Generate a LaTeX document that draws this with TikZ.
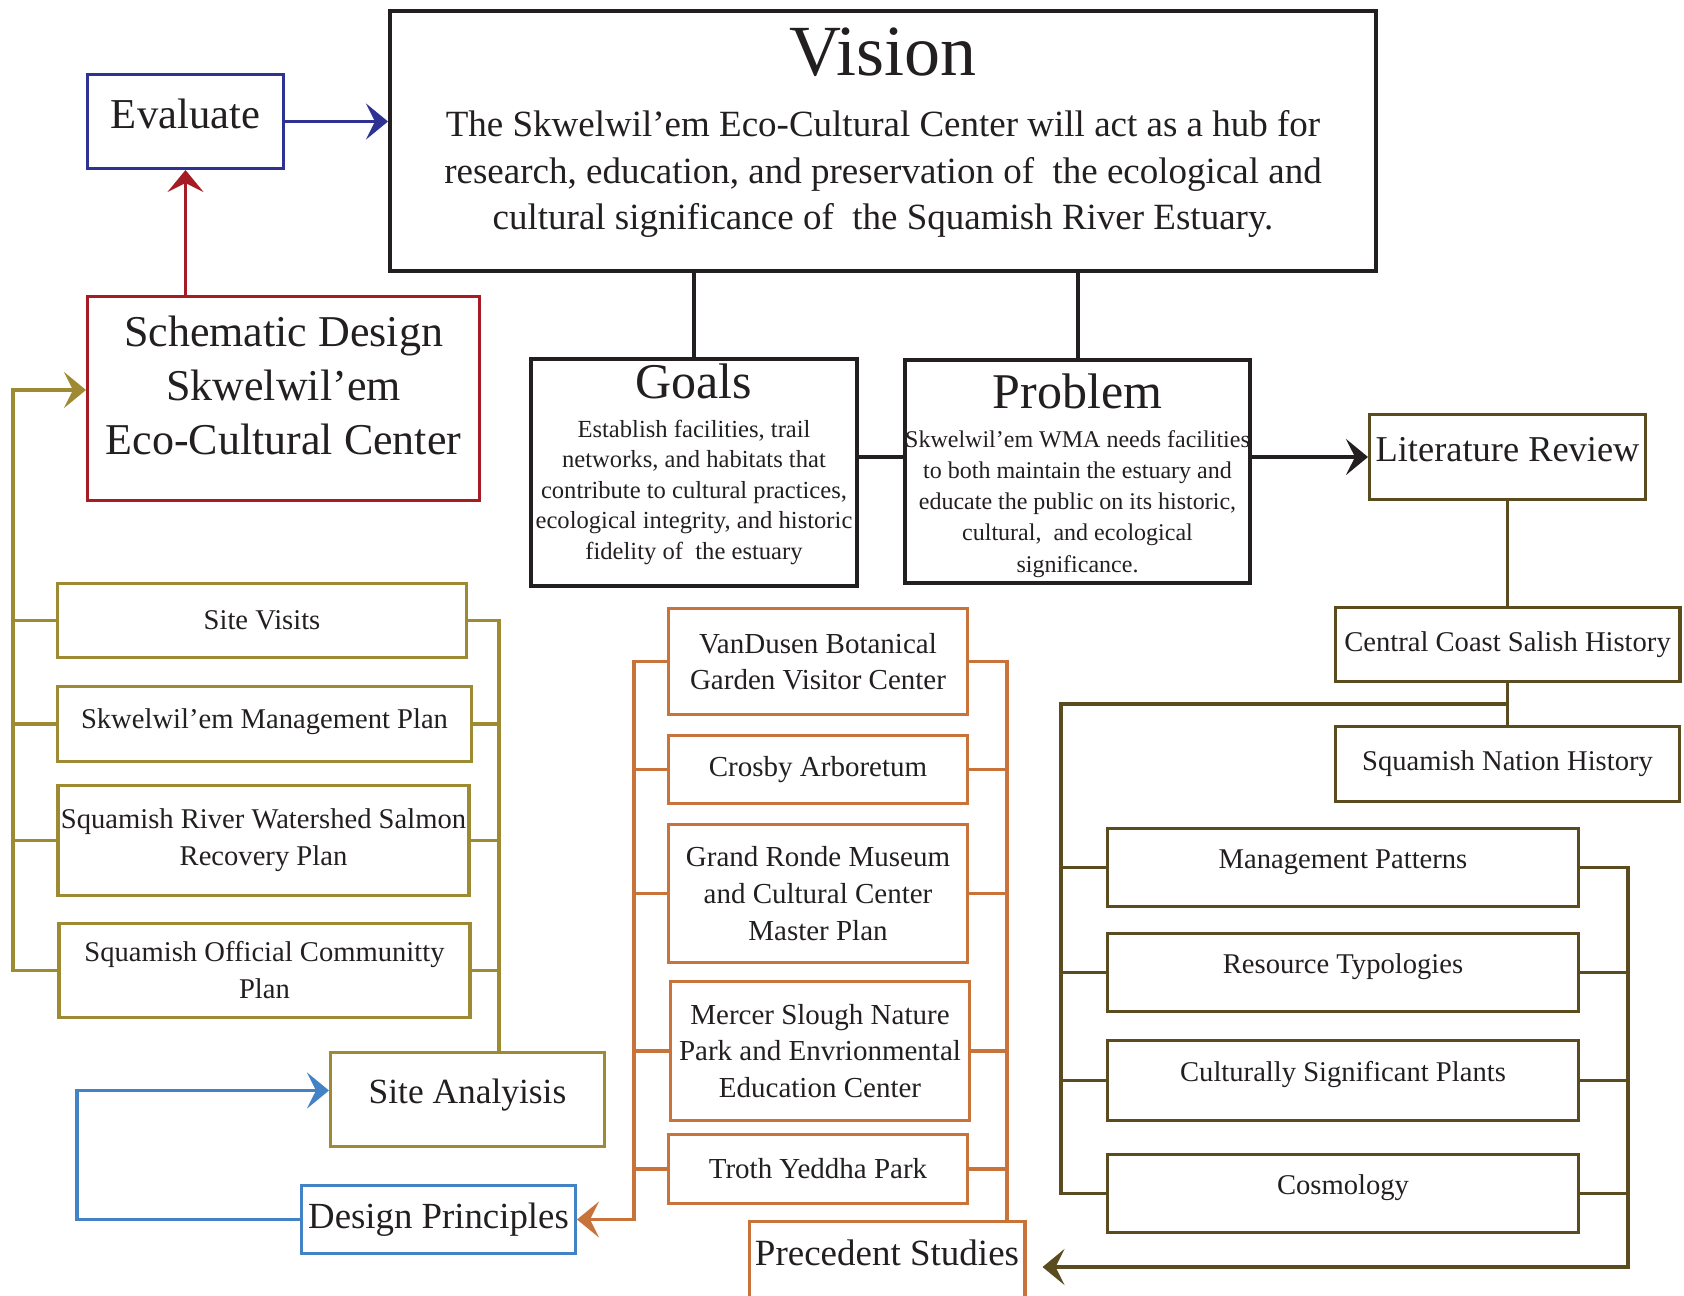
\documentclass[tikz,border=0pt]{standalone}
\usepackage{fontspec}
\setmainfont{Liberation Serif}
\usetikzlibrary{positioning,arrows.meta}
\definecolor{myink}{HTML}{231F20}
\definecolor{myblue}{HTML}{2E3393}
\definecolor{myred}{HTML}{A51C24}
\definecolor{myolive}{HTML}{9F8A34}
\definecolor{myorange}{HTML}{C7733A}
\definecolor{mysky}{HTML}{4382C5}
\definecolor{mybrown}{HTML}{5A4C1E}

\begin{document}
\begin{tikzpicture}[x=0.5pt, y=-0.5pt,
        squarenode/.style={rectangle, draw=myink, line width=2pt, align=center, text=myink, inner sep=2pt},
        smallnode/.style={squarenode, line width=1.7pt, inner sep=1pt, font=\fontsize{14.3}{18.5}\selectfont},
        sitenode/.style={smallnode, draw=myolive, minimum width=205.5pt},
        precnode/.style={smallnode, draw=myorange, minimum width=149.3pt, font=\fontsize{14.5}{18.3}\selectfont},
        litnode/.style={smallnode, draw=mybrown},
        topicnode/.style={litnode, minimum width=235.3pt, minimum height=38.8pt, text height=10pt, text depth=9.5pt},
        headed/.style={-{Stealth[length=11pt, width=18pt, inset=4.5pt]}},
        blackline/.style={myink, line width=2pt},
        oliveline/.style={myolive, line width=1.7pt},
        orangeline/.style={myorange, line width=1.7pt},
        brownline/.style={mybrown, line width=1.7pt},
        skyline/.style={mysky, line width=1.7pt}]
        \useasboundingbox (0,0) rectangle (1684,1295);
        % top row
        \node[squarenode, minimum width=493pt, minimum height=130pt, font=\fontsize{18.5}{23.3}\selectfont] at (883, 141) (vision) {{\fontsize{36}{36}\selectfont Vision}\\[7.2pt] The Skwelwil’em Eco-Cultural Center will act as a hub for\\ research, education, and preservation of~ the ecological and\\ cultural significance of~ the Squamish River Estuary.\\[-11.3pt]\mbox{}};
        \node[squarenode, draw=myblue, line width=1.7pt, minimum width=97.8pt, minimum height=46.8pt, font=\fontsize{21.3}{25}\selectfont, text height=14.5pt, text depth=8pt] at (185.5, 121.5) (evaluate) {Evaluate};
        \node[squarenode, draw=myred, line width=1.7pt, minimum width=195.8pt, minimum height=101.8pt, font=\fontsize{22}{27}\selectfont] at (283.5, 398.5) (schem) {Schematic Design\\ Skwelwil’em\\ Eco-Cultural Center\\[-14pt]\mbox{}};
        \node[squarenode, minimum width=163pt, minimum height=111.5pt, font=\fontsize{12.3}{15.25}\selectfont] at (694, 472.5) (goals) {{\fontsize{25}{25}\selectfont Goals}\\[4.25pt] Establish facilities, trail\\ networks, and habitats that\\ contribute to cultural practices,\\ ecological integrity, and historic\\ fidelity of~ the estuary\\[-4pt]\mbox{}};
        \node[squarenode, inner sep=0pt, minimum width=171.5pt, minimum height=111.5pt, font=\fontsize{12}{15.6}\selectfont] at (1077.5, 471.5) (problem) {\mbox{}\\[3pt]{\fontsize{25}{25}\selectfont Problem}\\[3.9pt] Skwelwil’em WMA needs facilities\\ to both maintain the estuary and\\ educate the public on its historic,\\ cultural,~ and ecological\\ significance.};
        % literature review
        \node[litnode, minimum width=137.8pt, minimum height=42.3pt, font=\fontsize{18.2}{22}\selectfont, text height=12.4pt, text depth=8pt] at (1507.5, 457) (lit) {Literature Review};
        \node[litnode, minimum width=172.3pt, minimum height=36.8pt, below=52.5pt of lit] (central) {Central Coast Salish History};
        \node[litnode, minimum width=171.8pt, minimum height=37.3pt, below=21pt of central] (snation) {Squamish Nation History};
        \node[topicnode] at (1343, 867.5) (mgmt) {Management Patterns};
        \node[topicnode] at (1343, 972.5) (restyp) {Resource Typologies};
        \node[topicnode, minimum height=39.8pt] at (1343, 1080.5) (plants) {Culturally Significant Plants};
        \node[topicnode] at (1343, 1193.5) (cosmo) {Cosmology};
        % site analysis
        \node[sitenode, minimum width=204.3pt, minimum height=36.8pt] at (262, 620.5) (visits) {Site Visits};
        \node[sitenode, minimum width=206.8pt, minimum height=37.3pt, text height=10pt, text depth=6pt] at (264.5, 724) (skplan) {Skwelwil’em Management Plan};
        \node[sitenode, minimum height=54.8pt] at (263.5, 840.5) (salmon) {Squamish River Watershed Salmon\\ Recovery Plan};
        \node[sitenode, minimum height=46.8pt] at (264.5, 970.5) (ocp) {Squamish Official Communitty\\ Plan};
        \node[squarenode, draw=myolive, line width=1.7pt, minimum width=136.8pt, minimum height=46.8pt, font=\fontsize{17.7}{21}\selectfont, text height=12.1pt, text depth=8pt] at (467.5, 1099.5) (analysis) {Site Analyisis};
        \node[squarenode, draw=mysky, line width=1.7pt, minimum width=136.8pt, minimum height=33.8pt, font=\fontsize{18.4}{22}\selectfont] at (438.5, 1219.5) (principles) {Design Principles};
        % precedents
        \node[precnode, minimum height=52.8pt] at (818, 661.5) (vandusen) {VanDusen Botanical\\ Garden Visitor Center};
        \node[precnode, minimum height=33.8pt] at (818, 769.5) (crosby) {Crosby Arboretum};
        \node[precnode, minimum height=68.8pt] at (818, 893.5) (ronde) {Grand Ronde Museum\\ and Cultural Center\\ Master Plan};
        \node[precnode, minimum height=69.3pt] at (820, 1051) (mercer) {Mercer Slough Nature\\ Park and Envrionmental\\ Education Center};
        \node[precnode, minimum height=34.3pt] at (818, 1169) (troth) {Troth Yeddha Park};
        \node[squarenode, draw=myorange, line width=1.7pt, minimum width=137.8pt, minimum height=43.3pt, font=\fontsize{18.5}{22}\selectfont, text height=12.6pt, text depth=12.5pt] at (887, 1265) (precedent) {Precedent Studies};
        \coordinate (sitebusL) at (13, 0);
        \coordinate (sitebusR) at (499, 0);
        \coordinate (dploop) at (77, 0);
        \coordinate (precbusL) at (634, 0);
        \coordinate (precbusR) at (1007, 0);
        \coordinate (litbusL) at (1061, 704);
        \coordinate (litbusR) at (1628, 1267);
        % black links
        \draw[blackline] (goals.north) -- (goals.north |- vision.south);
        \draw[blackline] (problem.north) -- (problem.north |- vision.south);
        \draw[blackline] (goals.east |- lit) -- (problem.west |- lit);
        \draw[blackline, headed] (problem.east |- lit) -- (lit.west);
        \draw[myblue, line width=1.7pt, headed] (evaluate.east) -- (evaluate.east -| vision.west);
        \draw[myred, line width=1.7pt, headed] (schem.north -| evaluate) -- (evaluate.south);
        % site analysis bus
        \draw[oliveline, headed] (ocp.west) -- (ocp.west -| sitebusL) |- ([yshift=4.25pt]schem.west);
        \foreach \n in {visits, skplan, salmon}
            \draw[oliveline] (\n.west) -- (\n.west -| sitebusL);
        \draw[oliveline] (visits.east) -- (visits.east -| sitebusR) -- (analysis.north -| sitebusR);
        \foreach \n in {skplan, salmon, ocp}
            \draw[oliveline] (\n.east) -- (\n.east -| sitebusR);
        \draw[skyline, headed] (principles.west) -- (principles.west -| dploop) |- ([yshift=4.5pt]analysis.west);
        % precedent bus
        \draw[orangeline, headed] (vandusen.west) -- (vandusen.west -| precbusL) |- (principles.east);
        \foreach \n in {crosby, ronde, mercer, troth}
            \draw[orangeline] (\n.west) -- (\n.west -| precbusL);
        \draw[orangeline] (vandusen.east) -- (vandusen.east -| precbusR) -- (precedent.north -| precbusR);
        \foreach \n in {crosby, ronde, mercer, troth}
            \draw[orangeline] (\n.east) -- (\n.east -| precbusR);
        % literature bus
        \draw[brownline] (lit.south) -- (central.north);
        \draw[brownline] (central.south) -- (snation.north);
        \draw[brownline] (litbusL -| central) -- (litbusL) |- (cosmo.west);
        \foreach \n in {mgmt, restyp, plants}
            \draw[brownline] (\n.west) -- (\n.west -| litbusL);
        \draw[brownline, headed, shorten >=8pt] (mgmt.east) -| (litbusR) -- (litbusR -| precedent.east);
        \foreach \n in {restyp, plants, cosmo}
            \draw[brownline] (\n.east) -- (\n.east -| litbusR);
\end{tikzpicture}
\end{document}
